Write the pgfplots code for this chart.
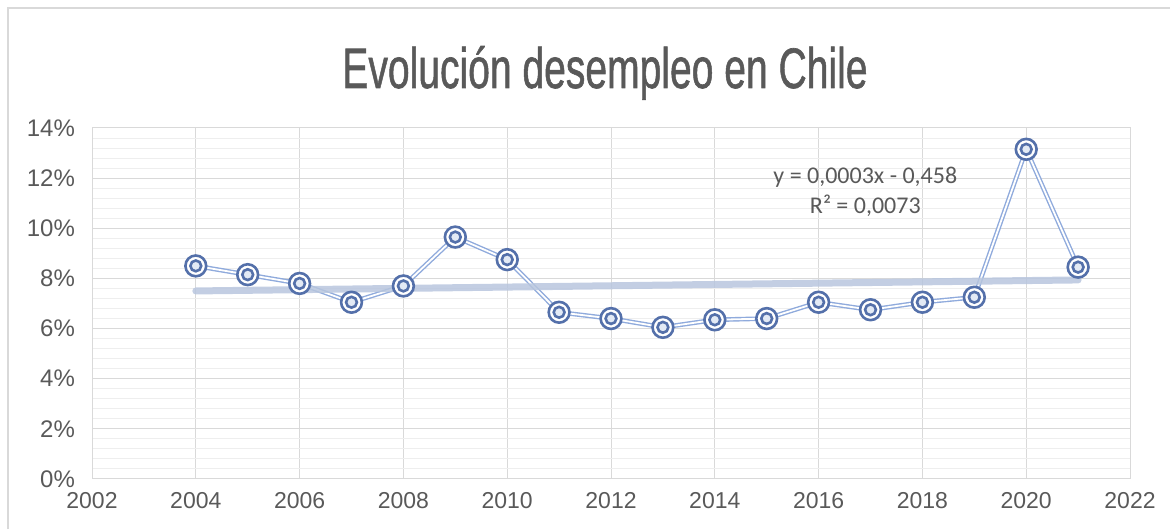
\documentclass[border=0pt]{standalone}
\usepackage{pgfplots}
\pgfplotsset{compat=1.18}
\usepackage{fontspec}
\setmainfont{Liberation Sans}
\newfontfamily\calfont{Carlito}
\newfontfamily\titlefont{Liberation Sans}[FakeBold=1.2]
\definecolor{tickgray}{HTML}{595959}
\definecolor{majgrid}{HTML}{D9D9D9}
\definecolor{mingrid}{HTML}{EEEEEE}
\definecolor{markblue}{HTML}{5470AA}
\definecolor{lineblue}{HTML}{8FAADC}
\definecolor{innerblue}{HTML}{E3EAF5}
\definecolor{trendblue}{HTML}{B8C6DE}
\pgfdeclareplotmark{dring}{%
  \pgfpathcircle{\pgfpointorigin}{\pgfplotmarksize}%
  \pgfsetfillcolor{white}\pgfusepathqfillstroke
  \pgfpathcircle{\pgfpointorigin}{0.52\pgfplotmarksize}%
  \pgfsetfillcolor{innerblue}\pgfusepathqfillstroke
}
\begin{document}
\begin{tikzpicture}
\useasboundingbox (0,0) rectangle (585pt,264.5pt);
\draw[majgrid, line width=0.6pt] (4pt,0) -- (4pt,260.5pt) -- (585pt,260.5pt);
\node[anchor=base, text=tickgray, xscale=0.685, font=\titlefont\fontsize{28.5}{30}\selectfont] at (302.5pt,220.5pt) {Evolución desempleo en Chile};
\begin{axis}[
  at={(46pt,25pt)}, anchor=south west,
  scale only axis, width=519pt, height=175.5pt,
  xmin=2002, xmax=2022, ymin=0, ymax=14,
  xtick={2002,2004,...,2022}, ytick={0,2,...,14},
  minor x tick num=4, minor y tick num=4,
  grid=both,
  major grid style={majgrid, line width=0.5pt},
  minor grid style={mingrid, line width=0.5pt},
  axis line style={majgrid, line width=0.5pt},
  major tick length=0pt, minor tick length=0pt,
  /pgf/number format/assume math mode=true,
  xticklabel style={/pgf/number format/1000 sep=, font=\fontsize{11.5}{13}\selectfont, yshift=-3pt},
  yticklabel={\pgfmathprintnumber{\tick}\%},
  yticklabel style={font=\fontsize{12}{13}\selectfont, xshift=-5pt},
  tick label style={text=tickgray},
  clip=false,
]
\addplot[lineblue, line width=0.7pt, double=white, double distance=0.9pt,
  mark=dring, mark size=5.2pt, mark options={draw=markblue, line width=1.3pt, solid}]
coordinates {
(2004,8.5) (2005,8.15) (2006,7.8) (2007,7.05) (2008,7.7) (2009,9.65)
(2010,8.75) (2011,6.65) (2012,6.4) (2013,6.05) (2014,6.35) (2015,6.4)
(2016,7.05) (2017,6.75) (2018,7.05) (2019,7.25) (2020,13.15) (2021,8.45)
};
\addplot[trendblue, line width=3.5pt, line cap=round, opacity=0.85] coordinates {(2004,7.5) (2021,7.94)};
\node[align=center, text=tickgray, font=\calfont\fontsize{12}{15}\selectfont] at (axis cs:2016.9,11.45) {y = 0,0003x - 0,458\\R² = 0,0073};
\end{axis}
\end{tikzpicture}
\end{document}
